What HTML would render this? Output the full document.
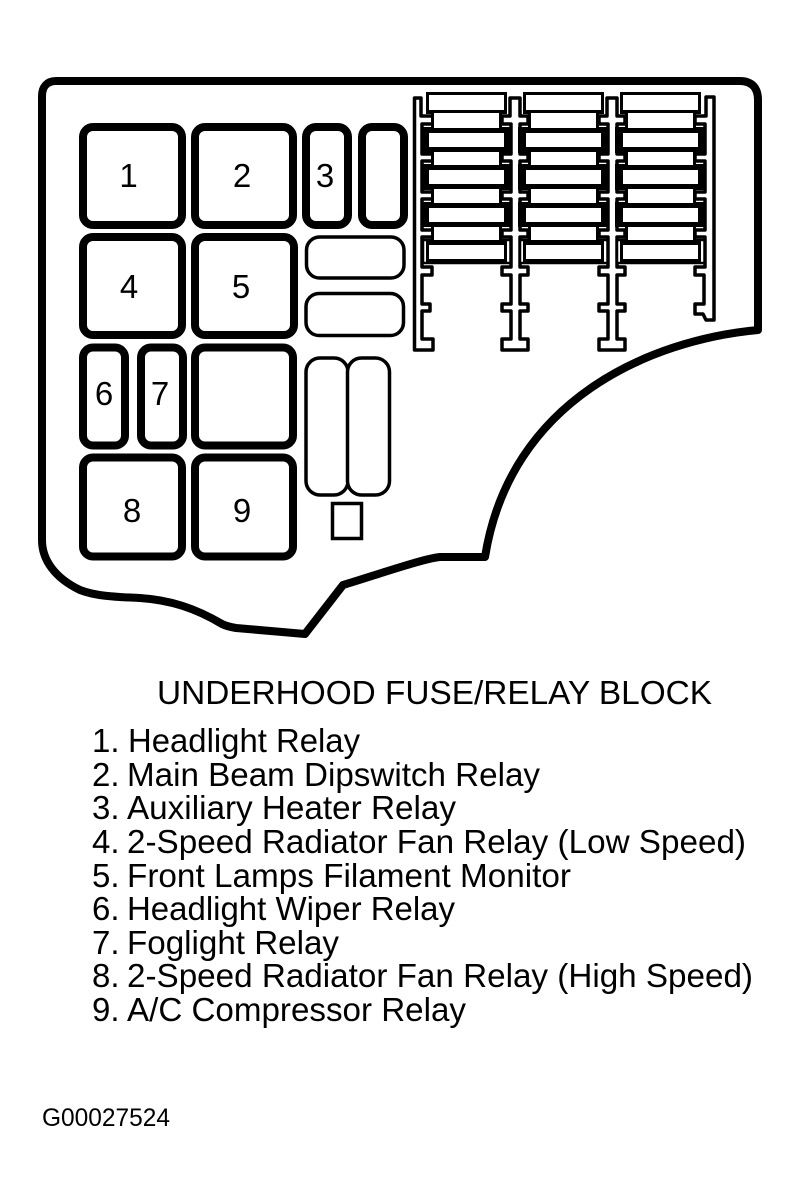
<!DOCTYPE html>
<html><head><meta charset="utf-8"><style>
html,body{margin:0;padding:0;background:#fff}
svg{display:block}
text{font-family:"Liberation Sans",Arial,sans-serif;fill:#000}
.t{font-size:33px}
.n{font-size:33px;text-anchor:middle}
.r{fill:#fff;stroke:#000;stroke-width:8}
.th{fill:#fff;stroke:#000;stroke-width:3.5}
.rail{fill:#fff;stroke:#000;stroke-width:3.5;stroke-linejoin:round}
.br{fill:#000}
.w{fill:#fff}
.o{fill:#fff;stroke:#000;stroke-width:2.500}
</style></head><body>
<svg width="799" height="1201" viewBox="0 0 799 1201" xmlns="http://www.w3.org/2000/svg">
<rect width="799" height="1201" fill="#fff"/>
<path d="M56 81 H740 C752 81 758 88 758 100 V330 C650 340 510 400 485 557 H440 C425 558 370 577 343 585 L305 634 L236 628 C230 627 226 626 222 624 C195 608 170 600 140 598 C115 597 95 596 80 590 C55 578 42 560 42 540 V96 C42 87 47 81 56 81 Z" fill="#fff" stroke="#000" stroke-width="8" stroke-linejoin="round"/>

<rect class="r" x="83" y="127" width="99" height="98" rx="10"/>
<rect class="r" x="195" y="127" width="98" height="98" rx="10"/>
<rect class="r" x="306" y="127" width="42" height="98" rx="10"/>
<rect class="r" x="362" y="127" width="42" height="98" rx="10"/>
<rect class="r" x="83" y="237" width="99" height="98" rx="10"/>
<rect class="r" x="195" y="237" width="99" height="98" rx="10"/>
<rect class="r" x="83" y="347.500" width="42" height="98" rx="10"/>
<rect class="r" x="141" y="347.500" width="42" height="98" rx="10"/>
<rect class="r" x="195" y="347.500" width="98" height="98" rx="10"/>
<rect class="r" x="83" y="457.500" width="99" height="99" rx="10"/>
<rect class="r" x="195" y="457.500" width="98" height="99" rx="10"/>

<rect class="th" x="306.500" y="237" width="97.500" height="41" rx="13"/>
<rect class="th" x="306" y="293.500" width="97.500" height="42" rx="13"/>
<rect class="th" x="306" y="358" width="42" height="137" rx="14"/>
<rect class="th" x="347.500" y="358" width="42" height="137" rx="14"/>
<rect class="th" x="332.500" y="503.500" width="29" height="35"/>

<text class="n" x="128.500" y="187">1</text>
<text class="n" x="242" y="187">2</text>
<text class="n" x="325" y="187">3</text>
<text class="n" x="129" y="298">4</text>
<text class="n" x="241" y="298">5</text>
<text class="n" x="104" y="405">6</text>
<text class="n" x="160" y="405">7</text>
<text class="n" x="132" y="522">8</text>
<text class="n" x="242" y="522">9</text>

<!-- left rail -->
<path class="rail" d="M414.500 98 H421 V116 H433 V124 H422 V154 H433 V161 H422 V192 H433 V199 H422 V230 H433 V237 H422 V267 H432 V275 H422 V304 H430 V311 H422 V339 H433 V350 H414.500 Z"/>
<!-- centre rail 1 -->
<path class="rail" id="c" d="M510 98 H520 V116 H528 V124 H520 V154 H528 V161 H520 V192 H528 V199 H520 V230 H528 V237 H520 V267 H528 V275 H520 V304 H528 V311 H520 V339 H528 V350 H502 V339 H511 V311 H502 V304 H511 V275 H502 V267 H511 V237 H502 V230 H511 V199 H502 V192 H511 V161 H502 V154 H511 V124 H502 V116 H510 Z"/>
<use href="#c" x="97"/>
<!-- right rail -->
<path class="rail" d="M706 97 H714 V320 H706 L703 314 H695 V304 H704 V275 H695 V267 H705 V237 H695 V230 H705 V199 H695 V192 H705 V161 H695 V154 H705 V124 H695 V116 H706 Z"/>

<!-- column 1 -->
<g id="col">
<rect class="br" x="426" y="92" width="81" height="22"/>
<rect class="w" x="429" y="95" width="75" height="15"/>
<rect class="br" x="421" y="127" width="91" height="26"/>
<rect class="w" x="429" y="133" width="75" height="14"/>
<rect class="br" x="421" y="164" width="91" height="26"/>
<rect class="w" x="429" y="170" width="75" height="14"/>
<rect class="br" x="421" y="202" width="91" height="25"/>
<rect class="w" x="429" y="208" width="75" height="14"/>
<rect class="o" x="423" y="240" width="87.500" height="23"/>
<rect class="br" x="426" y="241" width="81" height="22"/>
<rect class="w" x="429" y="245" width="75" height="14"/>
<rect class="br" x="431" y="110" width="71" height="23"/>
<rect class="w" x="434" y="113" width="65" height="15"/>
<rect class="br" x="431" y="147" width="71" height="23"/>
<rect class="w" x="434" y="152" width="65" height="13"/>
<rect class="br" x="431" y="184" width="71" height="24"/>
<rect class="w" x="434" y="189" width="65" height="14"/>
<rect class="br" x="431" y="222" width="71" height="23"/>
<rect class="w" x="434" y="227" width="65" height="13"/>
</g>
<use href="#col" x="97"/>
<use href="#col" x="194"/>

<text x="157" y="704" font-size="33.500" textLength="555" lengthAdjust="spacingAndGlyphs">UNDERHOOD FUSE/RELAY BLOCK</text>

<text class="t" x="92" y="752">1.</text><text class="t" x="128" y="752" textLength="232" lengthAdjust="spacingAndGlyphs">Headlight Relay</text>
<text class="t" x="92" y="786">2.</text><text class="t" x="127" y="786" textLength="413" lengthAdjust="spacingAndGlyphs">Main Beam Dipswitch Relay</text>
<text class="t" x="92" y="819">3.</text><text class="t" x="127" y="819" textLength="329" lengthAdjust="spacingAndGlyphs">Auxiliary Heater Relay</text>
<text class="t" x="92" y="853">4.</text><text class="t" x="127" y="853" textLength="619" lengthAdjust="spacingAndGlyphs">2-Speed Radiator Fan Relay (Low Speed)</text>
<text class="t" x="92" y="887">5.</text><text class="t" x="127" y="887" textLength="444" lengthAdjust="spacingAndGlyphs">Front Lamps Filament Monitor</text>
<text class="t" x="92" y="920">6.</text><text class="t" x="127" y="920" textLength="328" lengthAdjust="spacingAndGlyphs">Headlight Wiper Relay</text>
<text class="t" x="92" y="954">7.</text><text class="t" x="127" y="954" textLength="212" lengthAdjust="spacingAndGlyphs">Foglight Relay</text>
<text class="t" x="92" y="987">8.</text><text class="t" x="127" y="987" textLength="626" lengthAdjust="spacingAndGlyphs">2-Speed Radiator Fan Relay (High Speed)</text>
<text class="t" x="92" y="1021">9.</text><text class="t" x="127" y="1021" textLength="339" lengthAdjust="spacingAndGlyphs">A/C Compressor Relay</text>

<text x="42" y="1126" font-size="25" textLength="128" lengthAdjust="spacingAndGlyphs">G00027524</text>
</svg>
</body></html>
